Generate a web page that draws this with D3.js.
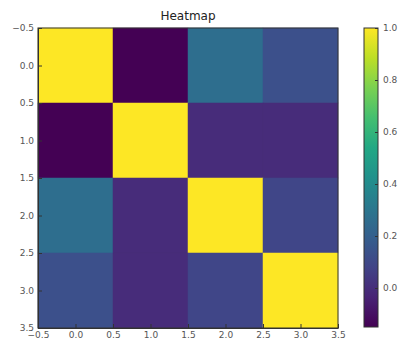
<!DOCTYPE html>
<html>
<head>
<meta charset="utf-8">
<script src="https://cdn.jsdelivr.net/npm/d3@7"></script>
<style>
  body { margin: 0; background: #fff; }
  text { font-family: "DejaVu Sans", sans-serif; }
  .tick text { fill: #555; font-size: 9px; }
  .tick line { stroke: #333; }
  .domain { stroke: #333; }
</style>
</head>
<body>
<div id="viz"></div>
<script>
// Rows / columns of the matrix
var labels = [0, 1, 2, 3];
// correlation values, row by row
var row0 = [1.00, -0.15, 0.26, 0.13];
var row1 = [-0.15, 1.00, -0.01, -0.01];
var row2 = [0.26, -0.01, 1.00, 0.09];
var row3 = [0.13, -0.01, 0.09, 1.00];
var rows = [row0, row1, row2, row3];
var axisTicks = [-0.5, 0.0, 0.5, 1.0, 1.5, 2.0, 2.5, 3.0, 3.5];
var barTicks = [0.0, 0.2, 0.4, 0.6, 0.8, 1.0];

var margin = {top: 28, left: 38};
var size = 300;

var svg = d3.select("#viz")
    .append("svg")
    .attr("width", 398)
    .attr("height", 343);

var g = svg.append("g")
    .attr("transform", "translate(" + margin.left + "," + margin.top + ")");

var x = d3.scaleLinear().domain([-0.5, 3.5]).range([0, size]);
var y = d3.scaleLinear().domain([-0.5, 3.5]).range([0, size]);

var vmin = d3.min(rows, function(r) { return d3.min(r); });
var vmax = d3.max(rows, function(r) { return d3.max(r); });
var color = d3.scaleSequential(d3.interpolateViridis).domain([vmin, vmax]);

// cells
var cells = [];
rows.forEach(function(r, i) {
  r.forEach(function(v, j) { cells.push({i: i, j: j, v: v}); });
});

g.selectAll("rect.cell")
    .data(cells)
  .enter().append("rect")
    .attr("class", "cell")
    .attr("x", function(d) { return x(labels[d.j] - 0.5); })
    .attr("y", function(d) { return y(labels[d.i] - 0.5); })
    .attr("width", x(1) - x(0))
    .attr("height", y(1) - y(0))
    .attr("fill", function(d) { return color(d.v); })
    .attr("stroke", function(d) { return color(d.v); })
    .attr("stroke-width", 0.5);

// axes, ticks pointing inward
g.append("g")
    .attr("transform", "translate(0," + size + ")")
    .call(d3.axisBottom(x).tickValues(axisTicks).tickFormat(d3.format(".1f")).tickSizeInner(-4).tickSizeOuter(0).tickPadding(4));
g.append("g")
    .call(d3.axisLeft(y).tickValues(axisTicks).tickFormat(d3.format(".1f")).tickSizeInner(-4).tickSizeOuter(0).tickPadding(4));
g.append("rect")
    .attr("width", size)
    .attr("height", size)
    .attr("fill", "none")
    .attr("stroke", "#333")
    .attr("stroke-width", 1);

// title
svg.append("text")
    .attr("x", margin.left + size / 2)
    .attr("y", 20)
    .attr("text-anchor", "middle")
    .style("font-size", "12px")
    .style("fill", "#222")
    .text("Heatmap");

// colorbar
var cb = svg.append("g").attr("transform", "translate(364," + margin.top + ")");
var cbW = 14;
var cy = d3.scaleLinear().domain([vmin, vmax]).range([size - 1, 0]);

var grad = svg.append("defs").append("linearGradient")
    .attr("id", "cbgrad")
    .attr("x1", "0").attr("y1", "1").attr("x2", "0").attr("y2", "0");
d3.range(0, 1.0001, 0.1).forEach(function(t) {
  grad.append("stop")
      .attr("offset", t)
      .attr("stop-color", d3.interpolateViridis(t));
});

cb.append("rect")
    .attr("width", cbW)
    .attr("height", size - 1)
    .attr("fill", "url(#cbgrad)")
    .attr("stroke", "#333")
    .attr("stroke-width", 1);

cb.append("g")
    .attr("transform", "translate(" + cbW + ",0)")
    .call(d3.axisRight(cy).tickValues(barTicks).tickFormat(d3.format(".1f")).tickSizeInner(-3).tickSizeOuter(0).tickPadding(5))
    .select(".domain").remove();
</script>
</body>
</html>
